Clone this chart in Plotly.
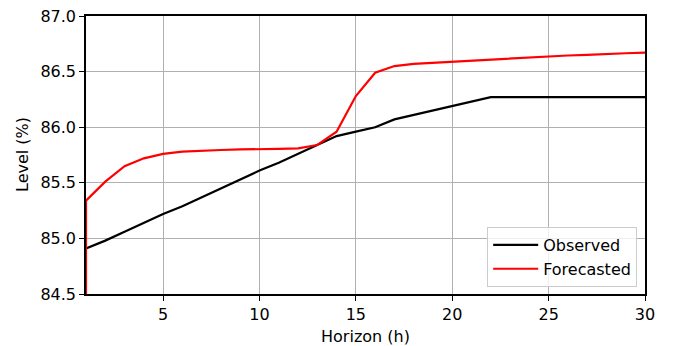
import plotly.graph_objects as go

horizon = list(range(1, 31))
observed = [84.91, 84.98, 85.06, 85.14, 85.22, 85.29, 85.37, 85.45, 85.53, 85.61,
            85.68, 85.76, 85.84, 85.92, 85.96, 86.00, 86.07, 86.11, 86.15, 86.19,
            86.23, 86.27, 86.27, 86.27, 86.27, 86.27, 86.27, 86.27, 86.27, 86.27]
forecast_x = [1] + horizon
forecasted = [84.0, 85.34, 85.51, 85.65, 85.72, 85.76, 85.78, 85.79, 85.795, 85.80, 85.80,
              85.805, 85.81, 85.84, 85.96, 86.28, 86.49, 86.55, 86.57, 86.58, 86.59,
              86.60, 86.61, 86.62, 86.63, 86.64, 86.645, 86.65, 86.66, 86.665, 86.67]
x_ticks = [5, 10, 15, 20, 25, 30]
y_ticks = [84.5, 85.0, 85.5, 86.0, 86.5, 87.0]

FS = 16
W, H = 673, 346
ML, MR, MT, MB = 86, 28, 16, 52

fig = go.Figure()
fig.add_trace(go.Scatter(x=horizon, y=observed, mode="lines", name="Observed",
                         line=dict(color="black", width=2.2)))
fig.add_trace(go.Scatter(x=forecast_x, y=forecasted, mode="lines", name="Forecasted",
                         line=dict(color="red", width=2.2)))

axis_common = dict(showline=True, linecolor="black", linewidth=1.5, mirror=True,
                   showgrid=True, gridcolor="#b0b0b0", gridwidth=1.3,
                   ticks="outside", ticklen=5, tickcolor="black", tickwidth=1.3,
                   zeroline=False, tickfont=dict(size=FS, color="black"),
                   automargin=False)

fig.update_layout(
    width=W, height=H,
    margin=dict(l=ML, r=MR, t=MT, b=MB),
    paper_bgcolor="white", plot_bgcolor="white",
    font=dict(family="DejaVu Sans", size=FS, color="black"),
    xaxis=dict(range=[1, 30], tickvals=x_ticks,
               title=dict(text="Horizon (h)", font=dict(size=FS)),
               **axis_common),
    yaxis=dict(range=[84.5, 87.0], tickvals=y_ticks, tickformat=".1f",
               **axis_common),
    legend=dict(x=0.986, y=0.025, xanchor="right", yanchor="bottom",
                bgcolor="rgba(255,255,255,0.8)", bordercolor="#cccccc", borderwidth=1,
                font=dict(size=FS), tracegroupgap=0, itemwidth=45),
    showlegend=True,
)
fig.add_annotation(text="Level (%)", xref="paper", yref="paper",
                   x=(22 - ML) / (W - ML - MR), y=0.5, textangle=-90,
                   showarrow=False, xanchor="center", yanchor="middle",
                   font=dict(size=FS, color="black"))

fig.write_html("out.html")
